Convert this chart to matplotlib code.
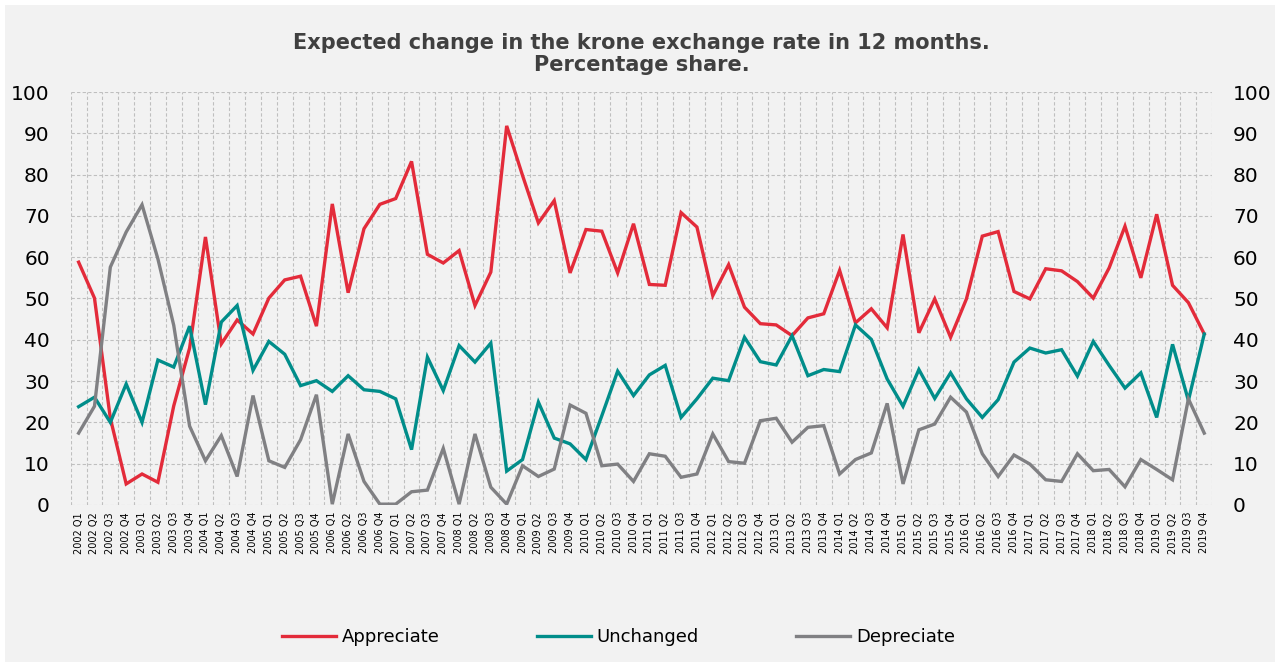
import numpy as np
import matplotlib.pyplot as plt
from matplotlib.patches import Rectangle

quarters = [f"{y} Q{q}" for y in range(2002, 2020) for q in range(1, 5)]

appreciate = [58.8, 50.1, 21.0, 5.1, 7.5, 5.5, 24.0, 38.0, 64.9, 39.0, 44.8, 41.4,
              50.1, 54.5, 55.4, 43.3, 72.9, 51.4, 66.9, 72.8, 74.2, 83.2, 60.7, 58.6,
              61.6, 48.3, 56.4, 91.8, 79.8, 68.3, 73.7, 56.2, 66.7, 66.3, 56.2, 68.1,
              53.4, 53.2, 70.8, 67.3, 50.7, 58.2, 47.9, 43.9, 43.6, 41.0, 45.3, 46.3,
              56.8, 44.1, 47.5, 42.9, 65.5, 41.7, 49.9, 40.6, 49.9, 65.1, 66.2, 51.7,
              49.9, 57.2, 56.7, 54.1, 50.1, 57.4, 67.5, 55.0, 70.4, 53.2, 49.0, 41.4]
unchanged = [23.8, 26.1, 20.0, 29.3, 20.0, 35.1, 33.4, 43.3, 24.3, 44.3, 48.3, 32.6,
             39.6, 36.5, 28.9, 30.1, 27.5, 31.3, 27.9, 27.5, 25.7, 13.4, 35.8, 27.7,
             38.6, 34.6, 39.2, 8.2, 11.0, 24.9, 16.2, 14.8, 11.0, 21.6, 32.4, 26.5,
             31.5, 33.8, 21.2, 25.7, 30.7, 30.1, 40.6, 34.7, 33.9, 41.0, 31.3, 32.8,
             32.3, 43.6, 40.1, 30.5, 23.9, 32.8, 25.8, 32.0, 25.7, 21.2, 25.5, 34.6,
             38.0, 36.8, 37.6, 31.2, 39.6, 33.8, 28.3, 32.0, 21.2, 38.9, 25.3, 41.4]
depreciate = [17.4, 23.9, 57.6, 66.1, 72.7, 59.6, 43.5, 19.1, 10.7, 16.8, 6.9, 26.5,
              10.7, 9.1, 15.8, 26.7, 0.2, 17.2, 5.7, 0.2, 0.2, 3.2, 3.6, 13.7,
              0.2, 17.2, 4.3, 0.2, 9.5, 6.9, 8.7, 24.2, 22.2, 9.5, 9.9, 5.7,
              12.4, 11.8, 6.7, 7.5, 17.2, 10.5, 10.1, 20.4, 21.0, 15.2, 18.8, 19.2,
              7.5, 11.0, 12.6, 24.6, 5.1, 18.2, 19.6, 26.1, 22.5, 12.4, 6.9, 12.1,
              9.9, 6.1, 5.7, 12.4, 8.3, 8.6, 4.4, 11.0, 8.6, 6.1, 25.7, 17.4]

bg = '#f2f2f2'
fig = plt.figure(figsize=(12.83, 6.62), dpi=100, facecolor='white')
fig.patches.append(Rectangle((5 / 1283, 0), 1270 / 1283, 657 / 662,
                             transform=fig.transFigure, facecolor=bg,
                             edgecolor='none', zorder=-10))
ax = fig.add_axes([0.0551, 0.2372, 0.8897, 0.6238])
ax.set_facecolor(bg)

x = np.arange(len(quarters))
ax.plot(x, appreciate, color='#e32b3a', lw=2.4, label='Appreciate', solid_joinstyle='miter')
ax.plot(x, unchanged, color='#008d8a', lw=2.4, label='Unchanged', solid_joinstyle='miter')
ax.plot(x, depreciate, color='#808083', lw=2.4, label='Depreciate', solid_joinstyle='miter')

ax.set_xlim(-0.5, len(quarters) - 0.5)
ax.set_ylim(0, 100)
ax.set_yticks(range(0, 101, 10))
ax.set_xticks(x)
ax.set_xticklabels(quarters, rotation=90, fontsize=7)
ax.set_xticks(np.arange(-0.5, len(quarters), 1), minor=True)
ax.tick_params(axis='x', which='both', length=0, pad=5)
ax.tick_params(axis='y', length=0, labelsize=14.5, labelright=True, pad=15)
ax.grid(False)
ax.grid(which='minor', axis='x', color='#bfbfbf', ls=(0, (3, 2)), lw=0.8)
ax.grid(which='major', axis='y', color='#bfbfbf', ls=(0, (3, 2)), lw=0.8)
for s in ax.spines.values():
    s.set_visible(False)

fig.text(0.5, 0.918, 'Expected change in the krone exchange rate in 12 months.\nPercentage share.',
         ha='center', va='center', fontsize=15, fontweight='bold', color='#404040',
         linespacing=1.15)

fig.legend(loc='center', bbox_to_anchor=(0.482, 0.038), ncol=3, frameon=False,
           fontsize=13, handlelength=3.0, handletextpad=0.3, columnspacing=5.4)

fig.savefig('out.png', dpi=100, facecolor=fig.get_facecolor())
